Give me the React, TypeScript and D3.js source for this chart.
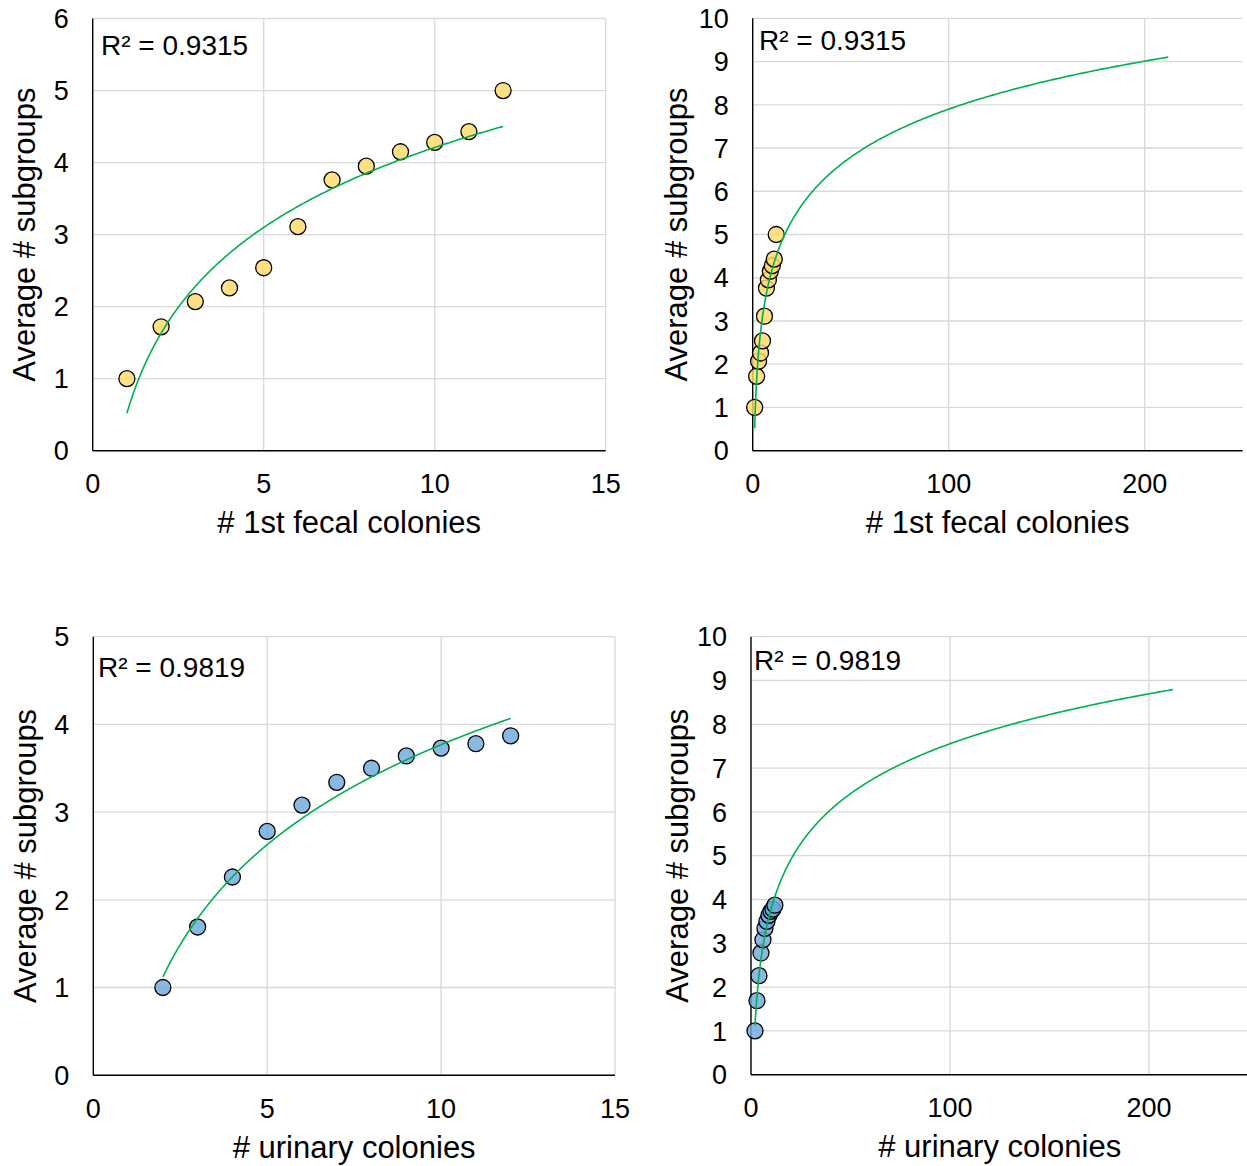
import React from "react";
import * as d3 from "d3";

// Fecal sampling: number of first fecal colonies vs. average number of subgroups
const fecalColonies = [1, 2, 3, 4, 5, 6, 7, 8, 9, 10, 11, 12];
const fecalSubgroups = [1.0, 1.72, 2.07, 2.26, 2.54, 3.11, 3.76, 3.95, 4.15, 4.28, 4.43, 5.0];

// Urinary sampling: number of urinary colonies vs. average number of subgroups
const urinaryColonies = [2, 3, 4, 5, 6, 7, 8, 9, 10, 11, 12];
const urinarySubgroups = [1.0, 1.69, 2.26, 2.78, 3.08, 3.34, 3.5, 3.64, 3.73, 3.78, 3.87];

// Axis ticks
const smallXTicks = [0, 5, 10, 15];
const largeXTicks = [0, 100, 200];
const fecalSmallYTicks = [0, 1, 2, 3, 4, 5, 6];
const urinarySmallYTicks = [0, 1, 2, 3, 4, 5];
const largeYTicks = [0, 1, 2, 3, 4, 5, 6, 7, 8, 9, 10];

// Reported fit quality of the logarithmic trendlines
const fecalR2 = "R² = 0.9315";
const urinaryR2 = "R² = 0.9819";

const FONT = "'Liberation Sans', Arial, Helvetica, sans-serif";
const GRID = "#d9d9d9";
const TREND = "#00b050";

// Least-squares fit of y = a·ln(x) + b
function logFit(xs: number[], ys: number[]) {
  const lx = xs.map((x) => Math.log(x));
  const mx = d3.mean(lx) as number;
  const my = d3.mean(ys) as number;
  let sxy = 0;
  let sxx = 0;
  lx.forEach((v, i) => {
    sxy += (v - mx) * (ys[i] - my);
    sxx += (v - mx) * (v - mx);
  });
  const a = sxy / sxx;
  return { a, b: my - a * mx };
}

type PanelProps = {
  xs: number[];
  ys: number[];
  left: number;
  right: number;
  top: number;
  bottom: number;
  xMax: number;
  yMax: number;
  xTicks: number[];
  xGrid: number[];
  yTicks: number[];
  trendFrom: number;
  trendTo: number;
  fill: string;
  r2: string;
  r2X: number;
  r2Y: number;
  xTitle: string;
  yTitleX: number;
};

function Panel(p: PanelProps) {
  const x = d3.scaleLinear().domain([0, p.xMax]).range([p.left, p.right]);
  const y = d3.scaleLinear().domain([0, p.yMax]).range([p.bottom, p.top]);
  const fit = logFit(p.xs, p.ys);
  const samples = d3
    .range(0, 1.00001, 1 / 400)
    .map((t) => p.trendFrom * Math.pow(p.trendTo / p.trendFrom, t));
  const line = d3
    .line<number>()
    .x((v) => x(v))
    .y((v) => y(fit.a * Math.log(v) + fit.b));
  const midX = (p.left + p.right) / 2;
  const midY = (p.top + p.bottom) / 2;

  return (
    <g fontFamily={FONT} fill="#000">
      {p.yTicks
        .filter((t) => t > 0)
        .map((t) => (
          <line key={"gy" + t} x1={x(0)} x2={p.right} y1={y(t)} y2={y(t)} stroke={GRID} strokeWidth={1.3} />
        ))}
      {p.xGrid.map((t) => (
        <line key={"gx" + t} x1={x(t)} x2={x(t)} y1={p.top} y2={p.bottom} stroke={GRID} strokeWidth={1.3} />
      ))}
      <line x1={p.left} x2={p.left} y1={p.top} y2={p.bottom} stroke="#000" strokeWidth={1.4} />
      <line x1={p.left} x2={p.right} y1={p.bottom} y2={p.bottom} stroke="#000" strokeWidth={1.4} />

      {p.yTicks.map((t) => (
        <text key={"ty" + t} x={p.left - 24} y={y(t)} dy="0.36em" textAnchor="end" fontSize={27}>
          {t}
        </text>
      ))}
      {p.xTicks.map((t) => (
        <text key={"tx" + t} x={x(t)} y={p.bottom + 42.5} textAnchor="middle" fontSize={27}>
          {t}
        </text>
      ))}

      {p.xs.map((v, i) => (
        <circle
          key={"pt" + i}
          cx={x(v)}
          cy={y(p.ys[i])}
          r={8}
          fill={p.fill}
          fillOpacity={0.82}
          stroke="#000"
          strokeWidth={1.3}
        />
      ))}
      <path d={line(samples) || ""} fill="none" stroke={TREND} strokeWidth={1.6} />

      <text x={p.r2X} y={p.r2Y} fontSize={28}>
        {p.r2}
      </text>
      <text x={midX} y={p.bottom + 82.5} textAnchor="middle" fontSize={31}>
        {p.xTitle}
      </text>
      <text
        transform={`translate(${p.yTitleX},${midY}) rotate(-90)`}
        textAnchor="middle"
        fontSize={31}
      >
        Average # subgroups
      </text>
    </g>
  );
}

export default function App() {
  const yellow = "#ffd966";
  const blue = "#6fa8dc";
  return (
    <svg
      width={1247}
      height={1166}
      style={{ position: "absolute", left: 0, top: 0, background: "#fff" }}
    >
      <rect width={1247} height={1166} fill="#fff" />
      <Panel
        xs={fecalColonies}
        ys={fecalSubgroups}
        left={92.7}
        right={605.7}
        top={18.5}
        bottom={450.7}
        xMax={15}
        yMax={6}
        xTicks={smallXTicks}
        xGrid={[5, 10, 15]}
        yTicks={fecalSmallYTicks}
        trendFrom={1}
        trendTo={12}
        fill={yellow}
        r2={fecalR2}
        r2X={101}
        r2Y={55}
        xTitle="# 1st fecal colonies"
        yTitleX={35}
      />
      <Panel
        xs={fecalColonies}
        ys={fecalSubgroups}
        left={752.7}
        right={1242.7}
        top={18.3}
        bottom={450.7}
        xMax={250}
        yMax={10}
        xTicks={largeXTicks}
        xGrid={[100, 200]}
        yTicks={largeYTicks}
        trendFrom={1}
        trendTo={212}
        fill={yellow}
        r2={fecalR2}
        r2X={759}
        r2Y={50}
        xTitle="# 1st fecal colonies"
        yTitleX={687}
      />
      <Panel
        xs={urinaryColonies}
        ys={urinarySubgroups}
        left={93.3}
        right={615}
        top={636.7}
        bottom={1075.2}
        xMax={15}
        yMax={5}
        xTicks={smallXTicks}
        xGrid={[5, 10, 15]}
        yTicks={urinarySmallYTicks}
        trendFrom={2}
        trendTo={12}
        fill={blue}
        r2={urinaryR2}
        r2X={98}
        r2Y={676.5}
        xTitle="# urinary colonies"
        yTitleX={36}
      />
      <Panel
        xs={urinaryColonies}
        ys={urinarySubgroups}
        left={751}
        right={1248.5}
        top={636.7}
        bottom={1074.7}
        xMax={250}
        yMax={10}
        xTicks={largeXTicks}
        xGrid={[100, 200]}
        yTicks={largeYTicks}
        trendFrom={2}
        trendTo={212}
        fill={blue}
        r2={urinaryR2}
        r2X={754}
        r2Y={670}
        xTitle="# urinary colonies"
        yTitleX={688}
      />
    </svg>
  );
}
